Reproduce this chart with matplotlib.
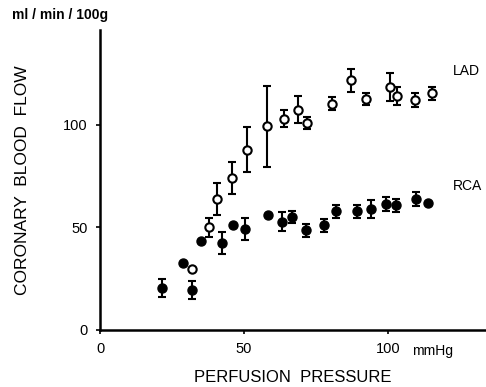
import numpy as np
import matplotlib.pyplot as plt

plt.rcParams['font.family'] = ['Liberation Sans', 'DejaVu Sans']

# LAD (open circles)
lad_x = [31.8, 38.0, 40.6, 45.7, 51.2, 58.1, 63.7, 68.6, 72.0, 80.7, 87.2, 92.4, 100.5, 103.0, 109.4, 115.2]
lad_y = [29.6, 49.9, 63.8, 74.0, 87.8, 99.2, 102.9, 107.3, 100.8, 110.1, 121.5, 112.5, 118.2, 113.8, 111.7, 115.1]
lad_err = [0, 4.5, 7.7, 7.8, 11.0, 19.7, 4.3, 6.7, 3.0, 3.2, 5.5, 3.0, 6.7, 4.4, 3.4, 3.2]

# RCA (filled circles)
rca_x = [21.6, 28.8, 32.0, 35.1, 42.2, 46.0, 50.5, 58.4, 63.3, 66.8, 71.4, 77.8, 81.9, 89.3, 94.1, 99.2, 102.6, 109.6, 113.7]
rca_y = [20.3, 32.8, 19.5, 43.1, 42.3, 51.2, 49.1, 56.1, 52.8, 55.0, 48.5, 50.9, 57.7, 57.7, 58.9, 61.3, 60.6, 63.7, 61.8]
rca_err = [4.4, 0, 4.5, 0, 5.5, 0, 5.5, 0, 4.5, 3.1, 3.1, 3.2, 3.2, 3.2, 4.4, 3.2, 3.2, 3.4, 0]

fig = plt.figure(figsize=(4.86, 3.87), dpi=100)
ax = fig.add_axes([0.2058, 0.1473, 0.7942, 0.7752])

ax.errorbar(rca_x, rca_y, yerr=rca_err, fmt='o', color='k', ms=6.5,
            capsize=3, elinewidth=1.5, capthick=1.5)
ax.errorbar(lad_x, lad_y, yerr=lad_err, fmt='o', color='k', mfc='white', mec='k',
            mew=1.5, ms=6, capsize=3, elinewidth=1.5, capthick=1.5)

ax.set_xlim(0, 134)
ax.set_ylim(0, 146)
for s in ['top', 'right']:
    ax.spines[s].set_visible(False)
for s in ['left', 'bottom']:
    ax.spines[s].set_linewidth(1.8)

ax.set_xticks([0, 50, 100])
ax.set_yticks([0, 50, 100])
ax.tick_params(direction='out', length=3, width=1.2, labelsize=10.5, pad=6)

ax.text(-0.228, 1.05, 'ml / min / 100g', transform=ax.transAxes, fontsize=10,
        fontweight='bold', ha='left', va='center')
ax.text(122.5, 126, 'LAD', fontsize=10, ha='left', va='center')
ax.text(122.5, 70, 'RCA', fontsize=10, ha='left', va='center')
ax.text(115.5, -10, 'mmHg', fontsize=10, ha='center', va='center')
ax.set_ylabel('CORONARY  BLOOD  FLOW', fontsize=12.5, labelpad=24)
ax.set_xlabel('PERFUSION  PRESSURE', fontsize=12, labelpad=10)

fig.savefig('out.png', dpi=100)
